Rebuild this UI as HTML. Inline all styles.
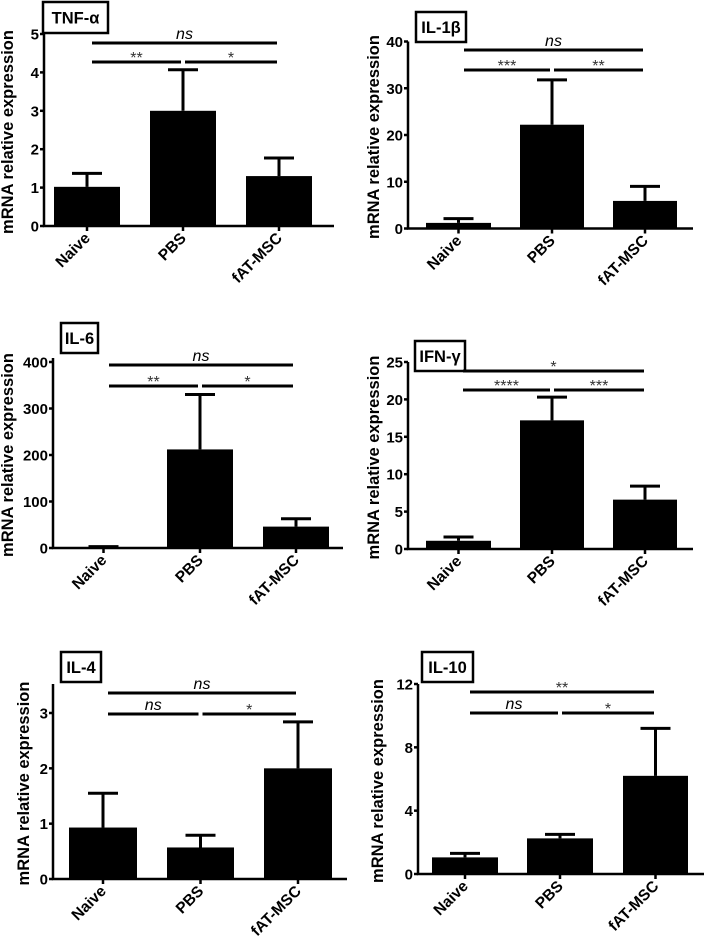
<!DOCTYPE html>
<html><head><meta charset="utf-8">
<style>
html,body{margin:0;padding:0;background:#fff;}
svg{display:block;font-family:"Liberation Sans",Arial,sans-serif;}
</style></head>
<body>
<svg id="fig" width="709" height="940" viewBox="0 0 709 940" xmlns="http://www.w3.org/2000/svg"></svg>
<script>
const categories = ["Naive","PBS","fAT-MSC"];
const tnfValues = [1.02, 3.0, 1.3];
const tnfErrors = [1.37, 4.07, 1.77];
const tnfTicks = [0,1,2,3,4,5];
const il1bValues = [1.2, 22.2, 5.9];
const il1bErrors = [2.1, 31.8, 9.0];
const il1bTicks = [0,10,20,30,40];
const il6Values = [2, 212, 46];
const il6Errors = [3, 330, 63];
const il6Ticks = [0,100,200,300,400];
const ifnValues = [1.1, 17.2, 6.6];
const ifnErrors = [1.6, 20.3, 8.4];
const ifnTicks = [0,5,10,15,20,25];
const il4Values = [0.93, 0.57, 2.0];
const il4Errors = [1.55, 0.79, 2.84];
const il4Ticks = [0,1,2,3];
const il10Values = [1.05, 2.25, 6.2];
const il10Errors = [1.3, 2.5, 9.2];
const il10Ticks = [0,4,8,12];
const tnfSig = ["ns","**","*"];
const il1bSig = ["ns","***","**"];
const il6Sig = ["ns","**","*"];
const ifnSig = ["*","****","***"];
const il4Sig = ["ns","ns","*"];
const il10Sig = ["**","ns","*"];

const NS="http://www.w3.org/2000/svg";
const svg=document.getElementById('fig');
function mk(tag,attrs,parent){const e=document.createElementNS(NS,tag);for(const k in attrs)e.setAttribute(k,attrs[k]);(parent||svg).appendChild(e);return e;}

function panel(p, values, errors, ticks, sig){
  const g=mk('g',{});
  
  
  const yMax=p.ymax;
  const y=v=>p.y0-(v/yMax)*(p.y0-p.yTop);
  const centers=p.bars.map(b=>(b[0]+b[1])/2);
  values.forEach((v,i)=>{
    const b=p.bars[i];
    const r=mk('rect',{x:b[0],y:y(v),width:b[1]-b[0],height:p.y0-y(v),fill:'#000'},g);
    
    
    const cx=centers[i], ye=y(errors[i]);
    const el=mk('path',{d:`M${cx},${y(v)}V${ye}M${cx-15},${ye}H${cx+15}`,stroke:'#000','stroke-width':3,fill:'none'},g);
    
    
  });
  const ax=mk('path',{d:`M${p.ax},${p.axTop}V${p.y0}H${p.axRight}`,stroke:'#000','stroke-width':2.5,fill:'none'},g);
  
  
  ticks.forEach(t=>{
    const ty=y(t);
    mk('line',{x1:p.ax-4,x2:p.ax,y1:ty,y2:ty,stroke:'#000','stroke-width':2.5},g);
    const tl=mk('text',{x:p.ax-5,y:ty+5.5,'text-anchor':'end','font-size':15,'font-weight':'bold'},g);
    tl.textContent=t;
    
    
  });
  centers.forEach((cx,i)=>{
    mk('line',{x1:cx,x2:cx,y1:p.y0,y2:p.y0+5,stroke:'#000','stroke-width':2.5},g);
    const xl=mk('text',{x:cx+4,y:p.y0+13,'text-anchor':'end','font-size':15.5,'font-weight':'bold',transform:`rotate(-45 ${cx+4} ${p.y0+13})`},g);
    xl.textContent=categories[i];
    
    
  });
  const yc=(p.y0+p.axTop)/2+2;
  const lx=p.ax-p.labOff+1;
  const yt=mk('text',{x:lx,y:yc,'text-anchor':'middle','font-size':16.5,'font-weight':'bold',transform:`rotate(-90 ${lx} ${yc})`},g);
  yt.textContent='mRNA relative expression';
  
  
  const tb=mk('rect',{x:p.box[0],y:p.box[1],width:p.box[2],height:p.box[3],fill:'#fff',stroke:'#000','stroke-width':2.5},g);
  
  
  const tt=mk('text',{x:p.box[0]+p.box[2]/2,y:p.box[1]+p.box[3]/2+6,'text-anchor':'middle','font-size':16.5,'font-weight':'bold'},g);
  tt.textContent=p.title;
  
  
  const sx1=p.sig[0], sx2=p.sig[1], mid=centers[1];
  const segs=[[sx1,sx2,p.sigY[0]],[sx1,mid-2,p.sigY[1]],[mid+2,sx2,p.sigY[1]]];
  segs.forEach((s,i)=>{
    const l=mk('line',{x1:s[0],x2:s[1],y1:s[2],y2:s[2],stroke:'#000','stroke-width':3},g);
    
    
    const isNs=sig[i]==='ns';
    const st=mk('text',{x:(s[0]+s[1])/2,y:s[2]-(isNs?4:-1),'text-anchor':'middle','font-size':16,'font-style':isNs?'italic':'normal',fill:isNs?'#000':'#333'},g);
    st.textContent=sig[i];
    
    
  });
}

panel({name:'tnf',title:'TNF-α',ymax:5,y0:226,yTop:34,axTop:34,ax:44,labOff:32,axRight:334,bars:[[54,120],[150,216],[246,312]],box:[43,2,65,31],sig:[92,277],sigY:[43,62]},tnfValues,tnfErrors,tnfTicks,tnfSig);
panel({name:'il1b',title:'IL-1β',ymax:40,y0:228.5,yTop:41.5,axTop:41.5,ax:408,labOff:30,axRight:693,bars:[[426,491],[520,584],[613,677]],box:[416,12,50,30],sig:[464,643],sigY:[50,70]},il1bValues,il1bErrors,il1bTicks,il1bSig);
panel({name:'il6',title:'IL-6',ymax:400,y0:548,yTop:362,axTop:358,ax:53,labOff:41,axRight:343,bars:[[70,137],[167,233],[263,329]],box:[61,323,37,30],sig:[109,293],sigY:[365,386]},il6Values,il6Errors,il6Ticks,il6Sig);
panel({name:'ifn',title:'IFN-γ',ymax:25,y0:549,yTop:362,axTop:362,ax:408,labOff:30,axRight:693,bars:[[426,491],[520,584],[613,677]],box:[415,341,50,30],sig:[463,644],sigY:[371,390]},ifnValues,ifnErrors,ifnTicks,ifnSig);
panel({name:'il4',title:'IL-4',ymax:3,y0:879,yTop:713,axTop:684,ax:53,labOff:25,axRight:347,bars:[[69,137],[167,234],[264,332]],box:[61,652,40,30],sig:[108,296],sigY:[693,714]},il4Values,il4Errors,il4Ticks,il4Sig);
panel({name:'il10',title:'IL-10',ymax:12,y0:874,yTop:684,axTop:684,ax:418,labOff:36,axRight:704,bars:[[432,498],[527,593],[623,688]],box:[422,652,51,30],sig:[470,654],sigY:[692,713]},il10Values,il10Errors,il10Ticks,il10Sig);
</script>
</body></html>
